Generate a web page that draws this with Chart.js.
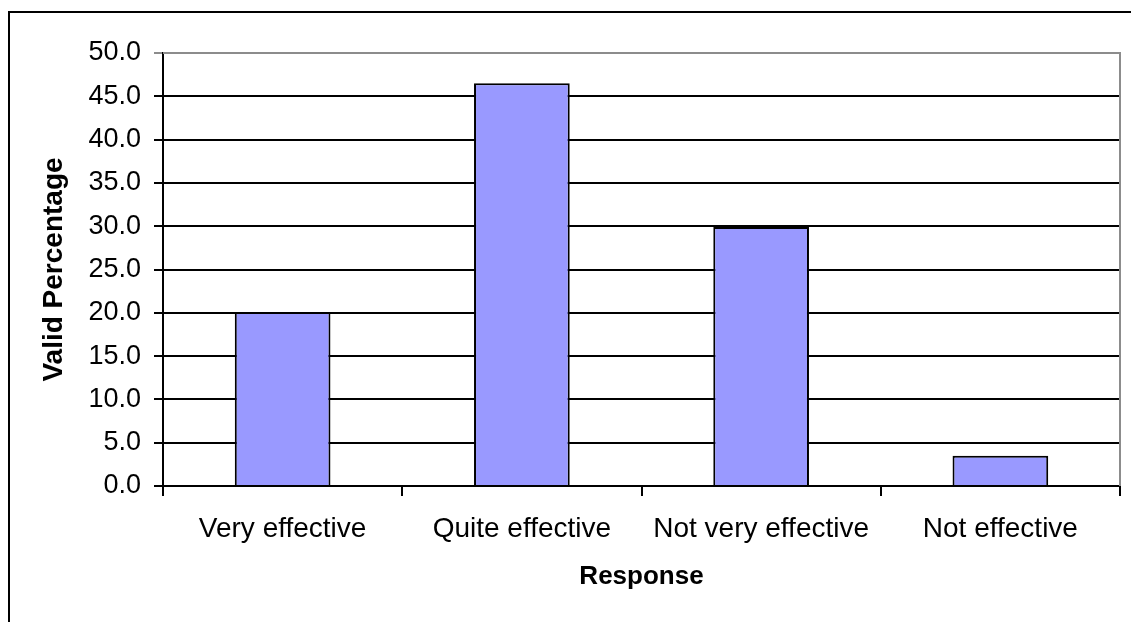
<!DOCTYPE html>
<html>
<head>
<meta charset="utf-8">
<script src="https://cdn.jsdelivr.net/npm/chart.js@4/dist/chart.umd.min.js"></script>
<style>
  html, body { margin: 0; padding: 0; background: #ffffff; }
  #wrap { width: 1131px; height: 622px; position: relative; }
</style>
</head>
<body>
<div id="wrap"><canvas id="c"></canvas></div>
<script>
// Survey responses and their valid percentages
const categories = ['Very effective', 'Quite effective', 'Not very effective', 'Not effective'];
const validPercent = [20.1, 46.5, 29.9, 3.5];
const yTicks = [0, 5, 10, 15, 20, 25, 30, 35, 40, 45, 50];

const FONT = '"Liberation Sans", Arial, Helvetica, sans-serif';

// Outer frame and grey plot-area border (top and right)
const framePlugin = {
  id: 'frame',
  beforeDraw(chart) {
    const ctx = chart.ctx;
    ctx.save();
    ctx.fillStyle = '#ffffff';
    ctx.fillRect(0, 0, chart.width, chart.height);
    ctx.strokeStyle = '#000000';
    ctx.lineWidth = 2;
    ctx.beginPath();
    ctx.moveTo(9, chart.height + 5);
    ctx.lineTo(9, 12);
    ctx.lineTo(chart.width + 5, 12);
    ctx.stroke();
    ctx.restore();
  },
  afterDatasetsDraw(chart) {
    const a = chart.chartArea;
    const ctx = chart.ctx;
    ctx.save();
    ctx.strokeStyle = '#8c8c8c';
    ctx.lineWidth = 2;
    ctx.beginPath();
    ctx.moveTo(a.left, a.top);
    ctx.lineTo(a.right, a.top);
    ctx.lineTo(a.right, a.bottom);
    ctx.stroke();
    ctx.restore();
  }
};

new Chart(document.getElementById('c'), {
  type: 'bar',
  data: {
    labels: categories,
    datasets: [{
      data: validPercent,
      backgroundColor: '#9999ff',
      borderColor: '#000000',
      borderWidth: 2,
      categoryPercentage: 1.0,
      barPercentage: 0.4
    }]
  },
  options: {
    responsive: true,
    maintainAspectRatio: false,
    animation: false,
    devicePixelRatio: 1,
    layout: { padding: { left: 0, top: 53, right: 11, bottom: 0 } },
    plugins: {
      legend: { display: false },
      tooltip: { enabled: false }
    },
    scales: {
      x: {
        afterFit(scale) { scale.height = 136; },
        grid: {
          offset: true,
          drawOnChartArea: false,
          drawTicks: true,
          tickLength: 10,
          color: '#000000',
          lineWidth: 2
        },
        border: { display: true, color: '#000000', width: 2 },
        ticks: {
          color: '#000000',
          font: { family: FONT, size: 28 },
          padding: 16,
          maxRotation: 0,
          autoSkip: false
        },
        title: {
          display: true,
          text: 'Response',
          color: '#000000',
          font: { family: FONT, size: 26, weight: 'bold' },
          padding: { top: 0, bottom: 30 }
        }
      },
      y: {
        min: 0,
        max: 50,
        afterFit(scale) { scale.width = 163; },
        afterBuildTicks(scale) { scale.ticks = yTicks.map(v => ({ value: v })); },
        grid: {
          drawTicks: true,
          tickLength: 9,
          color: (c) => (c.tick && c.tick.value === 50 ? '#8c8c8c' : '#000000'),
          lineWidth: 2
        },
        border: { display: true, color: '#000000', width: 2 },
        ticks: {
          color: '#000000',
          font: { family: FONT, size: 27 },
          padding: 13,
          callback: v => Number(v).toFixed(1)
        },
        title: {
          display: true,
          text: 'Valid Percentage',
          color: '#000000',
          font: { family: FONT, size: 28, weight: 'bold' },
          padding: { top: 37, bottom: 0 }
        }
      }
    }
  },
  plugins: [framePlugin]
});
</script>
</body>
</html>
